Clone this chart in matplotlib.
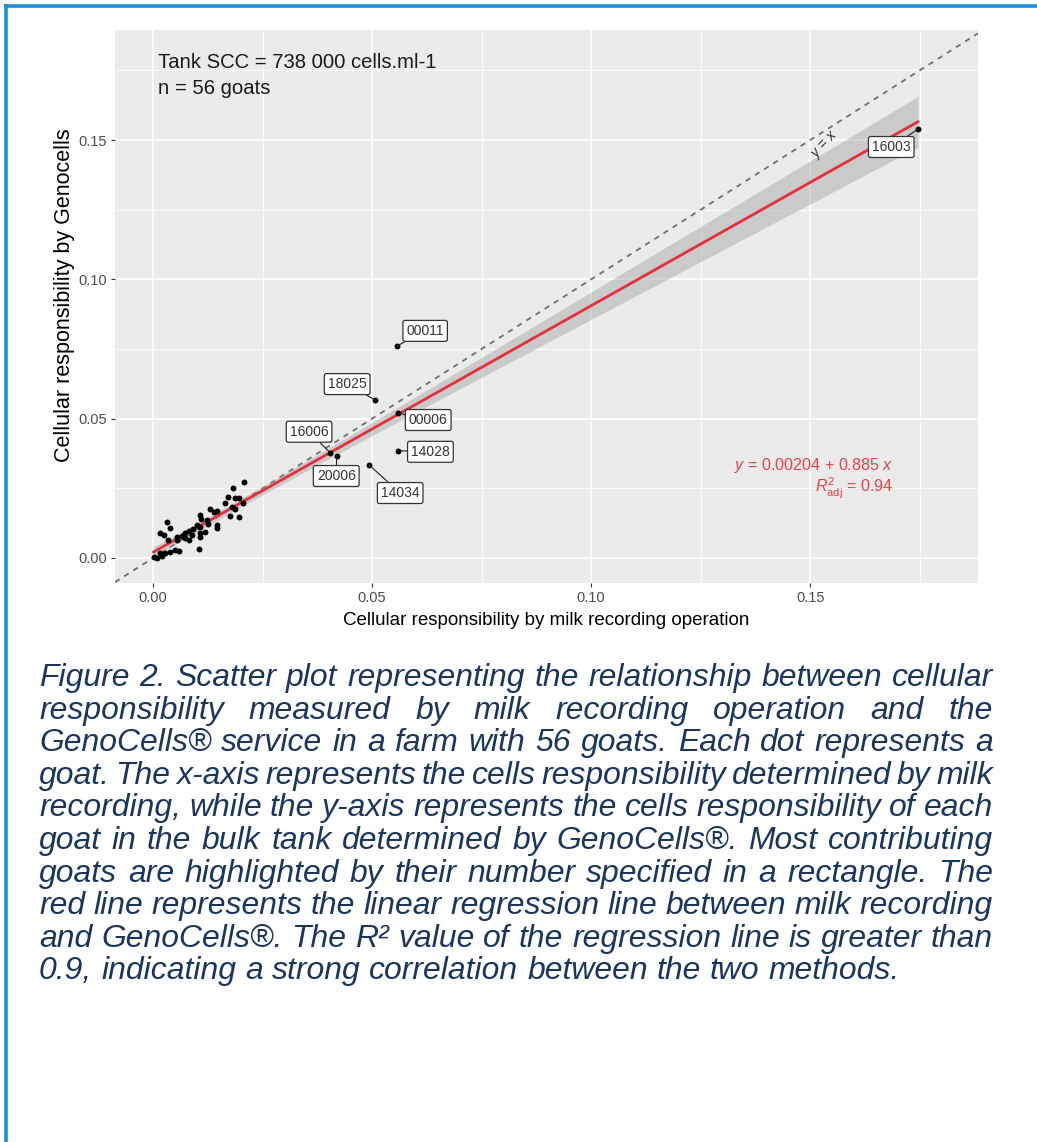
import numpy as np
import matplotlib
matplotlib.use("Agg")
import matplotlib.pyplot as plt
from matplotlib.lines import Line2D

# goats without a label (milk recording, genocells)
x_rest = [0.0208, 0.0182, 0.0170, 0.0187, 0.0197, 0.0164, 0.0206, 0.0180,
          0.0187, 0.0176, 0.0195, 0.0130, 0.0145, 0.0107, 0.0110, 0.0123,
          0.0126, 0.0145, 0.0145, 0.0100, 0.0107, 0.0092, 0.0083, 0.0073,
          0.0065, 0.0055, 0.0107, 0.0107, 0.0119, 0.0031, 0.0039, 0.0016,
          0.0024, 0.0035, 0.0054, 0.0039, 0.0050, 0.0060, 0.0027, 0.0016,
          0.0008, 0.0020, 0.0105, 0.0081, 0.0088, 0.0073, 0.0138, 0.0001]
y_rest = [0.0274, 0.0250, 0.0220, 0.0214, 0.0216, 0.0196, 0.0198, 0.0182,
          0.0175, 0.0151, 0.0146, 0.0175, 0.0169, 0.0154, 0.0140, 0.0136,
          0.0122, 0.0118, 0.0107, 0.0118, 0.0110, 0.0103, 0.0097, 0.0089,
          0.0079, 0.0074, 0.0089, 0.0074, 0.0094, 0.0130, 0.0107, 0.0089,
          0.0083, 0.0065, 0.0065, 0.0023, 0.0029, 0.0026, 0.0017, 0.0019,
          0.0000, 0.0007, 0.0031, 0.0065, 0.0083, 0.0071, 0.0166, 0.0005]

# labelled goats
goat_ids = ["00011", "18025", "00006", "16006", "20006", "14028", "14034", "16003"]
x_lab = [0.0557, 0.0507, 0.0559, 0.0404, 0.0419, 0.0559, 0.0493, 0.1746]
y_lab = [0.0761, 0.0567, 0.0520, 0.0378, 0.0366, 0.0385, 0.0334, 0.1539]

intercept = 0.00204
slope = 0.885
r2_adj = 0.94

xticks = [0.00, 0.05, 0.10, 0.15]
xticklabels = ["0.00", "0.05", "0.10", "0.15"]

caption = [
    "Figure 2. Scatter plot representing the relationship between cellular",
    "responsibility measured by milk recording operation and the",
    "GenoCells\u00ae service in a farm with 56 goats. Each dot represents a",
    "goat. The x-axis represents the cells responsibility determined by milk",
    "recording, while the y-axis represents the cells responsibility of each",
    "goat in the bulk tank determined by GenoCells\u00ae. Most contributing",
    "goats are highlighted by their number specified in a rectangle. The",
    "red line represents the linear regression line between milk recording",
    "and GenoCells\u00ae. The R\u00b2 value of the regression line is greater than",
    "0.9, indicating a strong correlation between the two methods.",
]

# where the label boxes sit (ggrepel-like layout)
label_pos = [(0.0621, 0.0815), (0.0443, 0.0624), (0.0628, 0.0495), (0.0356, 0.0453),
             (0.0418, 0.0294), (0.0633, 0.0381), (0.0564, 0.0233), (0.1685, 0.1475)]

plt.rcParams["font.family"] = ["Liberation Sans", "DejaVu Sans"]
plt.rcParams["mathtext.fontset"] = "custom"
plt.rcParams["mathtext.it"] = "Liberation Sans:italic"
plt.rcParams["mathtext.rm"] = "Liberation Sans"

W, H = 1037, 1142
fig = plt.figure(figsize=(W / 100, H / 100), dpi=100)
fig.patch.set_facecolor("white")

ax = fig.add_axes([115 / W, 1 - 583 / H, (978 - 115) / W, (583 - 30) / H])
ax.set_facecolor("#EBEBEB")
for s in ax.spines.values():
    s.set_visible(False)

ax.set_xlim(-0.0087, 0.1883)
ax.set_ylim(-0.0090, 0.1895)
ax.set_xticks(xticks)
ax.set_xticklabels(xticklabels)
ax.set_yticks(xticks)
ax.set_yticklabels(xticklabels)
ax.set_xticks([0.025, 0.075, 0.125, 0.175], minor=True)
ax.set_yticks([0.025, 0.075, 0.125, 0.175], minor=True)
ax.grid(which="major", color="white", lw=1.2)
ax.grid(which="minor", color="white", lw=0.6)
ax.tick_params(which="major", length=3, width=0.8, color="#333333",
               labelcolor="#4D4D4D", labelsize=10.5, pad=3)
ax.tick_params(which="minor", length=0)
ax.set_axisbelow(True)

ax.set_xlabel("Cellular responsibility by milk recording operation", fontsize=13.5)
ax.set_ylabel("Cellular responsibility by Genocells", fontsize=15.5)
ax.xaxis.set_label_coords(0.5, -0.052)
ax.yaxis.set_label_coords(-0.046, 0.52)

x_all = np.array(x_rest + x_lab)
y_all = np.array(y_rest + y_lab)

# y = x reference line
ax.axline((0, 0), slope=1, color="#707070", lw=1.3, ls=(0, (3, 3)), zorder=2)
ax.text(0.1534, 0.1482, "$y$ = $x$", rotation=48, fontsize=10, color="#333333",
        ha="center", va="center", zorder=3)

# regression line and confidence band
n = len(x_all)
xs = np.linspace(x_all.min(), x_all.max(), 200)
fit = intercept + slope * xs
resid = y_all - (intercept + slope * x_all)
s = np.sqrt(np.sum(resid ** 2) / (n - 2))
sxx = np.sum((x_all - x_all.mean()) ** 2)
se = s * np.sqrt(1 / n + (xs - x_all.mean()) ** 2 / sxx)
ax.fill_between(xs, fit - 2.005 * se, fit + 2.005 * se, color="#999999", alpha=0.4,
                lw=0, zorder=2)
ax.plot(xs, fit, color="#E5303A", lw=2.0, zorder=3)

ax.scatter(x_all, y_all, s=18, color="black", zorder=4, lw=0)

for gid, px, py, (tx, ty) in zip(goat_ids, x_lab, y_lab, label_pos):
    ax.annotate(gid, xy=(px, py), xytext=(tx, ty), fontsize=10, color="#333333",
                ha="center", va="center", zorder=5,
                bbox=dict(boxstyle="round,pad=0.25,rounding_size=0.15", fc="white",
                          ec="#333333", lw=0.9),
                arrowprops=dict(arrowstyle="-", color="#222222", lw=0.8,
                                shrinkA=0, shrinkB=0))

ax.text(0.0011, 0.178, "Tank SCC = 738 000 cells.ml-1", fontsize=14.6,
        color="#1A1A1A", ha="left", va="center")
ax.text(0.0011, 0.1686, "n = 56 goats", fontsize=14.6, color="#1A1A1A",
        ha="left", va="center")

ax.text(0.1689, 0.0330, "$y$ = 0.00204 + 0.885 $x$", fontsize=11.6, color="#E8404A",
        ha="right", va="center")
ax.text(0.1689, 0.0251, r"$R^2_{\mathrm{adj}}$ = %.2f" % r2_adj, fontsize=11.6,
        color="#E8404A", ha="right", va="center")

# blue frame (top and left)
fig.add_artist(Line2D([5.5 / W, 1], [1 - 5.5 / H, 1 - 5.5 / H], color="#1A8FD8",
                      lw=2.6, transform=fig.transFigure))
fig.add_artist(Line2D([5.5 / W, 5.5 / W], [0, 1 - 5.5 / H], color="#1A8FD8",
                      lw=2.6, transform=fig.transFigure))

# caption, justified
renderer = fig.canvas.get_renderer()
cap_kw = dict(family="Liberation Sans", style="italic", color="#1A3560", va="baseline")
probe = fig.text(0, 0, caption[-1], fontsize=20, **cap_kw)
wp = probe.get_window_extent(renderer).width
probe.remove()
fsize = 20 * (897 - 39) / wp

x0, x1 = 39, 993
for i, line in enumerate(caption):
    yb = 1 - (686 + i * 32.6) / H
    words = line.split(" ")
    texts = [fig.text(0, yb, w, fontsize=fsize, **cap_kw) for w in words]
    widths = [t.get_window_extent(renderer).width for t in texts]
    if i < len(caption) - 1:
        gap = (x1 - x0 - sum(widths)) / (len(words) - 1)
    else:
        sp = fig.text(0, 0, "a a", fontsize=fsize, **cap_kw)
        sa = fig.text(0, 0, "aa", fontsize=fsize, **cap_kw)
        gap = sp.get_window_extent(renderer).width - sa.get_window_extent(renderer).width
        sp.remove()
        sa.remove()
    xx = x0
    for t, w in zip(texts, widths):
        t.set_x(xx / W)
        xx += w + gap

fig.savefig("out.png", dpi=100)
